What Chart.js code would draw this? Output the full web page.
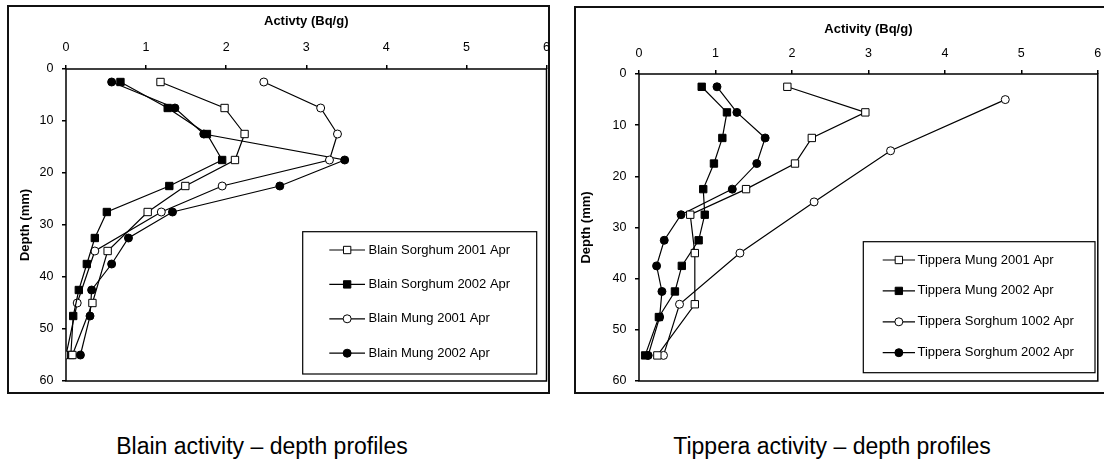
<!DOCTYPE html>
<html>
<head>
<meta charset="utf-8">
<script src="https://cdn.jsdelivr.net/npm/chart.js@4.4.1/dist/chart.umd.min.js"></script>
<style>
  body { margin: 0; background: #fff; width: 1104px; height: 463px; overflow: hidden; position: relative;
         font-family: "Liberation Sans", Arial, sans-serif; }
  .frame { position: absolute; border: 2px solid #111; box-sizing: border-box; }
  canvas { position: absolute; top: 0; }
  .caption { position: absolute; top: 435px; width: 600px; text-align: center; font-size: 23px; line-height: 23px; color: #000; }
</style>
</head>
<body>
<div class="frame" style="left:7px;top:5px;width:543px;height:389px"></div>
<div class="frame" style="left:574px;top:6px;width:560px;height:388px"></div>
<canvas id="blainChart" width="560" height="400" style="left:0"></canvas>
<canvas id="tipperaChart" width="544" height="400" style="left:560px"></canvas>
<div class="caption" style="left:-38px">Blain activity – depth profiles</div>
<div class="caption" style="left:532px">Tippera activity – depth profiles</div>

<script>
// depths (mm)
const depth5 = [2.5, 7.5, 12.5, 17.5, 22.5, 27.5, 35, 45, 55];
const depth25 = [2.5, 7.5, 12.5, 17.5, 22.5, 27.5, 32.5, 37.5, 42.5, 47.5, 55];
const depth10 = [5, 15, 25, 35, 45, 55];

// Blain activity (Bq/g)
const blainSorghum2001 = [1.18, 1.98, 2.23, 2.11, 1.49, 1.02, 0.52, 0.33, 0.08];
const blainSorghum2002 = [0.68, 1.27, 1.76, 1.95, 1.29, 0.51, 0.36, 0.26, 0.16, 0.09, 0.06];
const blainMung2001 = [2.47, 3.18, 3.39, 3.29, 1.95, 1.19, 0.36, 0.14, 0.0];
const blainMung2002 = [0.57, 1.36, 1.72, 3.48, 2.67, 1.33, 0.78, 0.57, 0.32, 0.30, 0.18];

// Tippera activity (Bq/g)
const tipMung2001 = [1.94, 2.96, 2.26, 2.04, 1.40, 0.67, 0.73, 0.73, 0.24];
const tipMung2002 = [0.82, 1.15, 1.09, 0.98, 0.84, 0.86, 0.78, 0.56, 0.47, 0.26, 0.08];
const tipSorghum1002 = [4.79, 3.29, 2.29, 1.32, 0.53, 0.32];
const tipSorghum2002 = [1.02, 1.28, 1.65, 1.54, 1.22, 0.55, 0.33, 0.23, 0.30, 0.27, 0.12];

const xTicks = [0, 1, 2, 3, 4, 5, 6];
const yTicks = [0, 10, 20, 30, 40, 50, 60];

const FONT = '"Liberation Sans", Arial, sans-serif';

function series(label, depths, values, style, filled) {
    return {
        label: label,
        data: depths.map((d, i) => ({ x: values[i], y: d })),
        showLine: true,
        borderColor: '#000',
        borderWidth: 1.2,
        pointStyle: style,
        pointRadius: style === 'rect' ? 5.2 : 4,
        pointHoverRadius: style === 'rect' ? 5.2 : 4,
        pointBackgroundColor: filled ? '#000' : '#fff',
        pointBorderColor: '#000',
        pointBorderWidth: 1
    };
}

// box around the plot area
const plotFrame = {
    id: 'plotFrame',
    beforeDatasetsDraw(chart) {
        const a = chart.chartArea;
        const ctx = chart.ctx;
        ctx.save();
        ctx.strokeStyle = '#000';
        ctx.lineWidth = 1.5;
        ctx.strokeRect(a.left, a.top, a.right - a.left, a.bottom - a.top);
        ctx.restore();
    }
};

// excel style legend in a box
const boxLegend = {
    id: 'boxLegend',
    afterDatasetsDraw(chart, args, o) {
        const ctx = chart.ctx;
        ctx.save();
        ctx.fillStyle = '#fff';
        ctx.fillRect(o.x, o.y, o.w, o.h);
        ctx.strokeStyle = '#000';
        ctx.lineWidth = 1.2;
        ctx.strokeRect(o.x, o.y, o.w, o.h);
        ctx.font = '13px ' + FONT;
        ctx.textBaseline = 'middle';
        chart.data.datasets.forEach((ds, i) => {
            const y = o.rowY + i * o.rowStep;
            const mx = (o.lineX0 + o.lineX1) / 2;
            ctx.strokeStyle = '#000';
            ctx.lineWidth = ds.borderWidth;
            ctx.beginPath();
            ctx.moveTo(o.lineX0, y);
            ctx.lineTo(o.lineX1, y);
            ctx.stroke();
            ctx.fillStyle = ds.pointBackgroundColor;
            ctx.lineWidth = 1;
            ctx.beginPath();
            if (ds.pointStyle === 'rect') {
                const s = ds.pointRadius * Math.SQRT1_2;
                ctx.rect(mx - s, y - s, 2 * s, 2 * s);
            } else {
                ctx.arc(mx, y, ds.pointRadius, 0, Math.PI * 2);
            }
            ctx.fill();
            ctx.stroke();
            ctx.fillStyle = '#000';
            ctx.fillText(ds.label, o.textX, y);
        });
        ctx.restore();
    }
};

function makeOptions(xTitle, lay, legend) {
    return {
        responsive: false,
        animation: false,
        layout: { padding: lay.padding },
        plugins: {
            legend: { display: false },
            tooltip: { enabled: false },
            boxLegend: legend
        },
        scales: {
            x: {
                type: 'linear',
                position: 'top',
                min: 0,
                max: 6,
                afterBuildTicks: s => { s.ticks = xTicks.map(v => ({ value: v })); },
                ticks: { padding: lay.xTickPad, color: '#000', font: { family: FONT, size: 12.5 } },
                grid: { drawOnChartArea: false, drawTicks: true, tickLength: 4, color: '#000', lineWidth: 1.5 },
                border: { display: false },
                title: {
                    display: true, text: xTitle, color: '#000',
                    font: { family: FONT, size: 13, weight: 'bold' },
                    padding: { top: lay.xTitlePad, bottom: 0 }
                },
                afterFit(s) { s.height = lay.xAxisH; s.paddingLeft = 0; s.paddingRight = 0; }
            },
            y: {
                type: 'linear',
                reverse: true,
                min: 0,
                max: 60,
                afterBuildTicks: s => { s.ticks = yTicks.map(v => ({ value: v })); },
                ticks: { padding: 8.5, color: '#000', font: { family: FONT, size: 12.5 } },
                grid: { drawOnChartArea: false, drawTicks: true, tickLength: 4, color: '#000', lineWidth: 1.5 },
                border: { display: false },
                title: {
                    display: true, text: 'Depth (mm)', color: '#000',
                    font: { family: FONT, size: 13, weight: 'bold' },
                    padding: { top: lay.yTitlePad, bottom: 0 }
                },
                afterFit(s) { s.width = lay.yAxisW; s.paddingTop = 0; s.paddingBottom = 0; }
            }
        }
    };
}

//Blain
new Chart(document.getElementById('blainChart'), {
    type: 'scatter',
    data: {
        datasets: [
            series('Blain Sorghum 2001 Apr', depth5, blainSorghum2001, 'rect', false),
            series('Blain Sorghum 2002 Apr', depth25, blainSorghum2002, 'rect', true),
            series('Blain Mung 2001 Apr', depth5, blainMung2001, 'circle', false),
            series('Blain Mung 2002 Apr', depth25, blainMung2002, 'circle', true)
        ]
    },
    options: makeOptions('Activty (Bq/g)',
        { padding: { left: 8, top: 6, right: 13.5, bottom: 19 }, xAxisH: 63, yAxisW: 58,
          xTitlePad: 8, yTitlePad: 9.5, xTickPad: 10.2 },
        { x: 302.7, y: 231.7, w: 234, h: 142.3, rowY: 250, rowStep: 34.4,
          lineX0: 329.3, lineX1: 365, textX: 368.5 }),
    plugins: [plotFrame, boxLegend]
});

//Tippera
new Chart(document.getElementById('tipperaChart'), {
    type: 'scatter',
    data: {
        datasets: [
            series('Tippera Mung 2001 Apr', depth5, tipMung2001, 'rect', false),
            series('Tippera Mung 2002 Apr', depth25, tipMung2002, 'rect', true),
            series('Tippera Sorghum 1002 Apr', depth10, tipSorghum1002, 'circle', false),
            series('Tippera Sorghum 2002 Apr', depth25, tipSorghum2002, 'circle', true)
        ]
    },
    options: makeOptions('Activity (Bq/g)',
        { padding: { left: 15, top: 7, right: 1, bottom: 19 }, xAxisH: 67, yAxisW: 64,
          xTitlePad: 14.4, yTitlePad: 3.5, xTickPad: 9.2 },
        { x: 303.3, y: 241.7, w: 231.7, h: 131, rowY: 260, rowStep: 30.9,
          lineX0: 322.7, lineX1: 355, textX: 357.5 }),
    plugins: [plotFrame, boxLegend]
});
</script>
</body>
</html>
